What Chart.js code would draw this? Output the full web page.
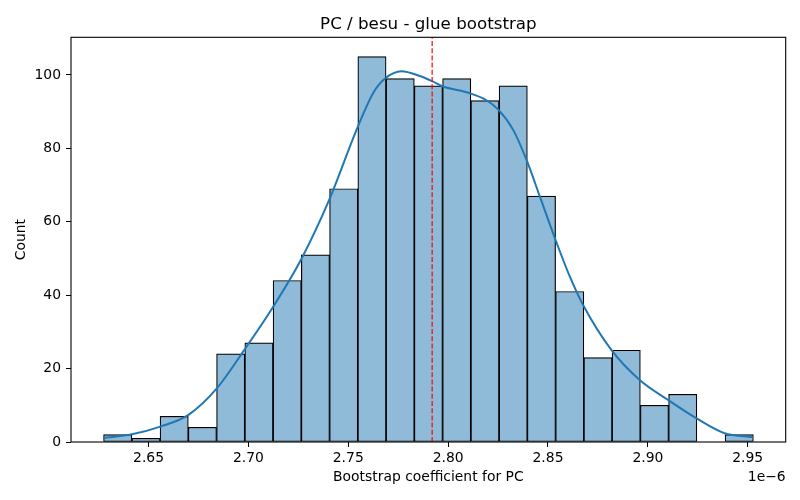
<!DOCTYPE html>
<html lang="en">
<head>
  <meta charset="UTF-8">
  <title>PC / besu - glue bootstrap</title>
  <script src="https://cdn.jsdelivr.net/npm/chart.js"></script>
  <style>
    body { margin: 0; background: #fff; }
  </style>
</head>
<body>
  <canvas id="histChart" width="800" height="500"></canvas>

  <script>
    // bin centres (units of 1e-6) and counts
    const binCenters = [2.63457, 2.64872, 2.66286, 2.67700, 2.69115, 2.70529, 2.71944, 2.73358,
                        2.74772, 2.76187, 2.77601, 2.79016, 2.80430, 2.81844, 2.83259, 2.84673,
                        2.86088, 2.87502, 2.88916, 2.90331, 2.91745, 2.93160, 2.94574];
    const binCounts = [2, 1, 7, 4, 24, 27, 44, 51, 69, 105, 99, 97, 99, 93, 97, 67, 41, 23, 25, 10, 13, 0, 2];

    // kde curve, scaled to counts
    const kdeX = [2.6272, 2.6417, 2.6559, 2.6700, 2.6842, 2.6980, 2.7125, 2.7264, 2.7405, 2.7542,
                  2.7625, 2.7684, 2.7767, 2.7858, 2.7920, 2.7972, 2.8109, 2.8192, 2.8250, 2.8325,
                  2.8395, 2.8459, 2.8534, 2.8609, 2.8675, 2.8817, 2.8959, 2.9100, 2.9242, 2.9384, 2.9525];
    const kdeY = [1.1, 2.1, 4.2, 7.4, 14.6, 25.1, 36.9, 49.7, 66.0, 85.1,
                  95.1, 99.0, 101.0, 99.7, 98.3, 96.9, 95.0, 93.1, 90.6, 85.1,
                  76.5, 66.9, 55.6, 45.1, 37.4, 25.1, 16.9, 11.5, 6.5, 2.4, 1.3];

    const meanValue = 2.792;

    const xTicks = [2.65, 2.70, 2.75, 2.80, 2.85, 2.90, 2.95];
    const yTicks = [0, 20, 40, 60, 80, 100];
    const xMin = 2.6112, xMax = 2.9690;
    const yMax = 110.25;

    const FONT = 'DejaVu Sans';

    // title, axis labels, offset text and the box round the axes
    const decorPlugin = {
      id: 'decor',
      afterDraw(chart) {
        const ctx = chart.ctx;
        const a = chart.chartArea;
        ctx.save();
        ctx.strokeStyle = '#000';
        ctx.lineWidth = 1.1;
        ctx.strokeRect(a.left, a.top, a.right - a.left, a.bottom - a.top);

        ctx.fillStyle = '#000';
        ctx.textAlign = 'center';
        ctx.textBaseline = 'alphabetic';
        ctx.font = '16.7px "' + FONT + '"';
        ctx.fillText('PC / besu - glue bootstrap', (a.left + a.right) / 2, a.top - 8.5);

        ctx.font = '13.9px "' + FONT + '"';
        ctx.textBaseline = 'middle';
        ctx.fillText('Bootstrap coefficient for PC', (a.left + a.right) / 2, 477);
        ctx.textAlign = 'right';
        ctx.fillText('1e\u22126', a.right, 477);

        ctx.translate(21, (a.top + a.bottom) / 2);
        ctx.rotate(-Math.PI / 2);
        ctx.textAlign = 'center';
        ctx.fillText('Count', 0, 0);
        ctx.restore();
      }
    };

    const ctx = document.getElementById('histChart').getContext('2d');
    new Chart(ctx, {
      type: 'bar',
      data: {
        datasets: [
          {
            type: 'line',
            data: [{ x: meanValue, y: 0 }, { x: meanValue, y: yMax }],
            borderColor: '#ff0000',
            borderWidth: 1.2,
            borderDash: [5, 2.2],
            pointRadius: 0,
            order: 1
          },
          {
            type: 'line',
            data: kdeX.map((x, i) => ({ x: x, y: kdeY[i] })),
            borderColor: '#1f77b4',
            borderWidth: 2,
            pointRadius: 0,
            cubicInterpolationMode: 'monotone',
            order: 2
          },
          {
            data: binCenters.map((x, i) => ({ x: x, y: binCounts[i] })),
            backgroundColor: '#8fbbd9',
            borderColor: '#000',
            borderWidth: 1.2,
            borderSkipped: false,
            barPercentage: 1,
            categoryPercentage: 1,
            order: 3
          }
        ]
      },
      options: {
        responsive: false,
        animation: false,
        devicePixelRatio: 1,
        layout: { padding: { left: 0, right: 14.3, top: 37.3, bottom: 0 } },
        plugins: {
          legend: { display: false },
          tooltip: { enabled: false },
          title: { display: false }
        },
        scales: {
          x: {
            type: 'linear',
            min: xMin,
            max: xMax,
            offset: false,
            grid: { offset: false, drawOnChartArea: false, color: '#000', tickLength: 5, tickWidth: 1 },
            border: { display: false },
            afterBuildTicks(scale) { scale.ticks = xTicks.map(v => ({ value: v })); },
            afterFit(scale) { scale.height = 58; },
            ticks: {
              color: '#000',
              padding: 3,
              maxRotation: 0,
              autoSkip: false,
              font: { family: FONT, size: 13.9 },
              callback: v => v.toFixed(2)
            }
          },
          y: {
            min: 0,
            max: yMax,
            grid: { drawOnChartArea: false, color: '#000', tickLength: 5, tickWidth: 1 },
            border: { display: false },
            afterBuildTicks(scale) { scale.ticks = yTicks.map(v => ({ value: v })); },
            afterFit(scale) { scale.width = 71; },
            ticks: {
              color: '#000',
              padding: 5,
              autoSkip: false,
              font: { family: FONT, size: 13.9 }
            }
          }
        }
      },
      plugins: [decorPlugin]
    });
  </script>
</body>
</html>
